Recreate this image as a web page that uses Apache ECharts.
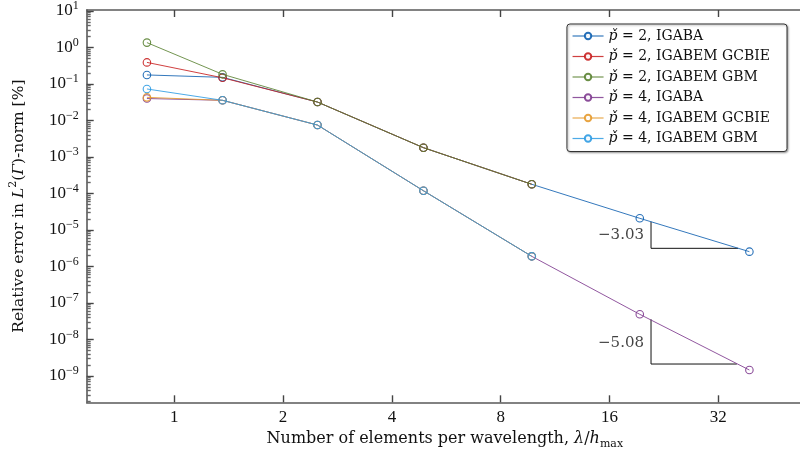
<!DOCTYPE html>
<html>
<head>
<meta charset="utf-8">
<script src="https://cdn.jsdelivr.net/npm/echarts@6/dist/echarts.min.js"></script>
<style>
  html, body { margin: 0; padding: 0; background: #fff; }
  #chart { width: 800px; height: 457px; }
</style>
</head>
<body>
<div id="chart"></div>
<script>
// elements per wavelength (x) for each mesh
var xVals = [0.84, 1.36, 2.49, 4.89, 9.75, 19.4, 39.0];

// relative error in %
var p2Igaba = [0.177, 0.152, 0.032, 0.0018, 1.79e-4, 2.09e-5, 2.55e-6];
var p2Gcbie = [0.39, 0.148, 0.032, 0.0018, 1.79e-4];
var p2Gbm   = [1.36, 0.184, 0.032, 0.0018, 1.79e-4];
var p4Igaba = [0.040, 0.0357, 0.0075, 1.19e-4, 1.9e-6, 4.9e-8, 1.46e-9];
var p4Gcbie = [0.043, 0.0357, 0.0075, 1.19e-4, 1.9e-6];
var p4Gbm   = [0.073, 0.0357, 0.0075, 1.19e-4, 1.9e-6];

var names = ['p̌ = 2, IGABA', 'p̌ = 2, IGABEM GCBIE', 'p̌ = 2, IGABEM GBM',
             'p̌ = 4, IGABA', 'p̌ = 4, IGABEM GCBIE', 'p̌ = 4, IGABEM GBM'];
var colors = ['#1060B0', '#C81E1E', '#5A8232', '#7E3A8E', '#E59A2E', '#2D9BE3'];
var seriesVals = [p2Igaba, p2Gcbie, p2Gbm, p4Igaba, p4Gcbie, p4Gbm];

// slope triangles: [x, y] corners and slope labels
var tri1 = [[20.84, 1.69e-5], [20.84, 3.15e-6], [36.3, 3.15e-6]];
var tri2 = [[20.84, 3.57e-8], [20.84, 2.13e-9], [36.0, 2.13e-9]];
var slopeLabels = ['−3.03', '−5.08'];
var slopeLabelPos = [[20.84, 7.3e-6], [20.84, 8.2e-9]];

// tick positions (exponents)
var xTickExps = [0, 1, 2, 3, 4, 5];
var yTickExps = [-9, -8, -7, -6, -5, -4, -3, -2, -1, 0, 1];

// axis ranges in log space
var xLogMin = -0.805, xLogMax = 5.778;
var yLogMin = -9.72, yLogMax = 1.027;

var yMinor = [];
for (var n = -10; n <= 1; n++) {
    for (var k = 2; k <= 9; k++) {
        var v = n + Math.log10(k);
        if (v > yLogMin && v < yLogMax) yMinor.push(v);
    }
}

function toLog(xs, ys) {
    return ys.map(function (y, i) { return [Math.log2(xs[i]), Math.log10(y)]; });
}
function ptsLog(pts) {
    return pts.map(function (p) { return [Math.log2(p[0]), Math.log10(p[1])]; });
}
function expStr(v) {
    return v < 0 ? '−' + (-v) : String(v);
}

var FONT = 'Liberation Serif';
var WIDE = 'DejaVu Serif';

function gridRect() {
    return { left: 86.7, top: 10, right: -3, bottom: 54.7, containLabel: false, outerBoundsMode: 'none' };
}
function tickStyle(c) {
    return { color: c, width: 1.4 };
}

var series = [];
for (var i = 0; i < 6; i++) {
    series.push({
        name: names[i],
        type: 'line',
        xAxisIndex: 0,
        yAxisIndex: 0,
        data: toLog(xVals, seriesVals[i]),
        symbol: 'circle',
        symbolSize: 7.5,
        lineStyle: { color: colors[i], width: 1, opacity: 0.85 },
        itemStyle: { color: 'rgba(255,255,255,0)', borderColor: colors[i], borderWidth: 1.1, opacity: 0.9 },
        emphasis: { disabled: true },
        z: 3 + i
    });
}
[tri1, tri2].forEach(function (t) {
    series.push({
        type: 'line',
        data: ptsLog(t),
        symbol: 'none',
        silent: true,
        lineStyle: { color: '#111', width: 1 },
        z: 2
    });
});
series.push({
    type: 'scatter',
    data: ptsLog(slopeLabelPos),
    symbolSize: 0,
    silent: true,
    label: {
        show: true,
        position: 'left',
        distance: 7,
        fontFamily: WIDE,
        fontSize: 15,
        color: '#111',
        formatter: function (p) { return slopeLabels[p.dataIndex]; }
    }
});

var chart = echarts.init(document.getElementById('chart'));
chart.setOption({
    animation: false,
    backgroundColor: '#fff',
    grid: [gridRect(), gridRect()],
    legend: {
        data: names,
        orient: 'vertical',
        right: 13,
        top: 24,
        itemWidth: 31,
        itemHeight: 8,
        itemGap: 4.5,
        padding: [4, 17, 5, 5],
        backgroundColor: '#fff',
        borderColor: '#333',
        borderWidth: 1,
        borderRadius: 3,
        shadowColor: 'rgba(0,0,0,0.35)',
        shadowBlur: 2,
        shadowOffsetX: 1,
        shadowOffsetY: 1,
        selectedMode: false,
        itemStyle: { color: '#fff' },
        lineStyle: { width: 1.2 },
        textStyle: {
            fontFamily: WIDE,
            fontSize: 14,
            color: '#111',
            lineHeight: 16,
            rich: {
                i: { fontFamily: WIDE, fontStyle: 'italic', fontSize: 14, color: '#111', lineHeight: 16 }
            }
        },
        formatter: function (name) { return name.replace('p̌', '{i|p̌}'); }
    },
    xAxis: [{
        type: 'value',
        gridIndex: 0,
        position: 'bottom',
        min: xLogMin,
        max: xLogMax,
        splitLine: { show: false },
        axisLine: { onZero: false, lineStyle: { color: '#5a5a5a', width: 1.6 } },
        axisTick: { show: true, inside: true, length: 7, customValues: xTickExps, lineStyle: tickStyle('#444') },
        axisLabel: {
            customValues: xTickExps,
            margin: 7,
            fontFamily: FONT,
            fontSize: 17,
            color: '#111',
            formatter: function (v) { return String(Math.round(Math.pow(2, v))); }
        },
        name: '{r|Number of elements per wavelength, }{i|λ}{r|/}{i|h}{sub|max}',
        nameLocation: 'middle',
        nameGap: 26,
        nameTextStyle: {
            rich: {
                r: { fontFamily: WIDE, fontSize: 16, color: '#111', lineHeight: 20 },
                i: { fontFamily: WIDE, fontStyle: 'italic', fontSize: 16, color: '#111', lineHeight: 20 },
                sub: { fontFamily: WIDE, fontSize: 11, color: '#111', lineHeight: 12, verticalAlign: 'bottom' }
            }
        }
    }, {
        type: 'value',
        gridIndex: 1,
        position: 'top',
        min: xLogMin,
        max: xLogMax,
        splitLine: { show: false },
        axisLine: { onZero: false, lineStyle: { color: '#5a5a5a', width: 1.6 } },
        axisTick: { show: true, inside: true, length: 7, customValues: xTickExps, lineStyle: tickStyle('#444') },
        axisLabel: { show: false, customValues: xTickExps }
    }],
    yAxis: [{
        type: 'value',
        gridIndex: 0,
        min: yLogMin,
        max: yLogMax,
        splitLine: { show: false },
        axisLine: { show: true, onZero: false, lineStyle: { color: '#5a5a5a', width: 1.6 } },
        axisTick: { show: true, inside: true, length: 7, customValues: yTickExps, lineStyle: tickStyle('#444') },
        axisLabel: {
            customValues: yTickExps,
            margin: 8,
            formatter: function (v) { return '{b|10}{s|' + expStr(Math.round(v)) + '}'; },
            rich: {
                b: { fontFamily: FONT, fontSize: 17, color: '#111', lineHeight: 22 },
                s: { fontFamily: FONT, fontSize: 12, color: '#111', lineHeight: 12, verticalAlign: 'top' }
            }
        },
        name: '{r|Relative error in }{i|L}{s|2}{r|(}{i|Γ}{r|)-norm [%]}',
        nameLocation: 'middle',
        nameRotate: 90,
        nameGap: 57,
        nameTextStyle: {
            rich: {
                r: { fontFamily: WIDE, fontSize: 15.5, color: '#111', lineHeight: 22 },
                i: { fontFamily: WIDE, fontStyle: 'italic', fontSize: 15.5, color: '#111', lineHeight: 22 },
                s: { fontFamily: WIDE, fontSize: 11, color: '#111', lineHeight: 12, verticalAlign: 'top' }
            }
        }
    }, {
        type: 'value',
        gridIndex: 1,
        min: yLogMin,
        max: yLogMax,
        splitLine: { show: false },
        axisLine: { show: false, onZero: false },
        axisTick: { show: true, inside: true, length: 4, customValues: yMinor, lineStyle: tickStyle('#666') },
        axisLabel: { show: false, customValues: yMinor }
    }],
    series: series
});
</script>
</body>
</html>
